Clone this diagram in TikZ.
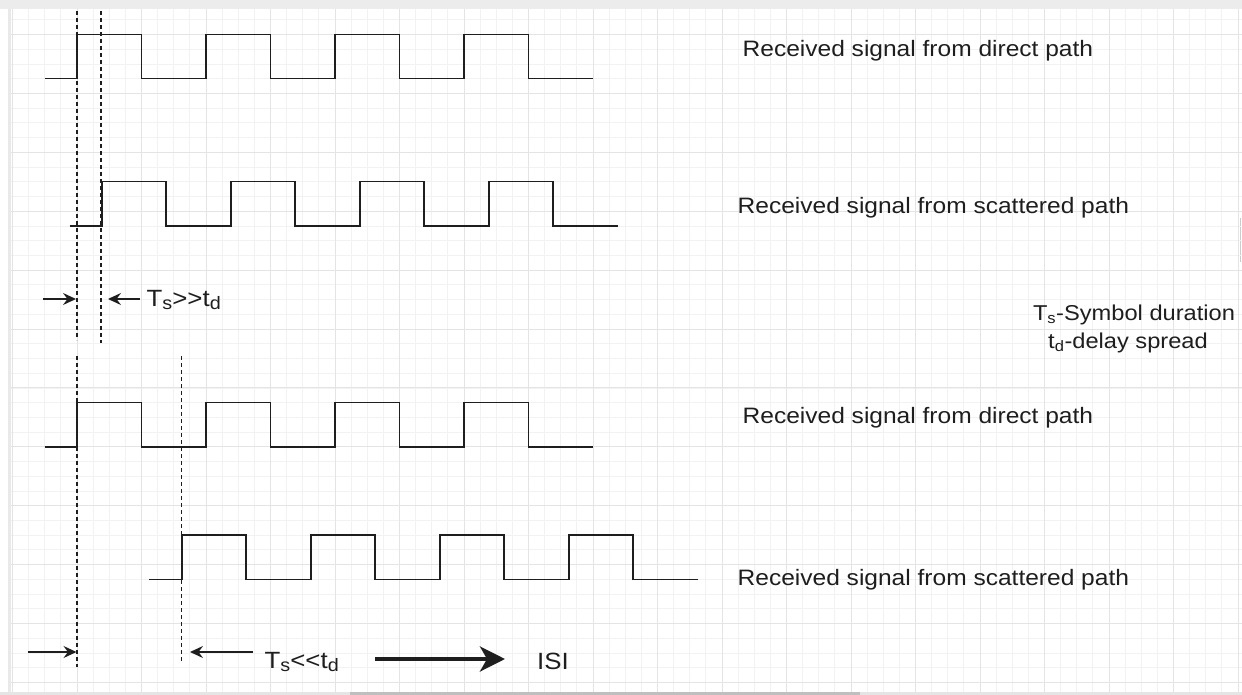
\documentclass[tikz,border=0pt]{standalone}
\usepackage{fontspec}
\setmainfont{Liberation Sans}[FakeStretch=1.1]
\usetikzlibrary{arrows.meta}

\definecolor{gridminor}{HTML}{F2F2F2}
\definecolor{gridmajor}{HTML}{E4E4E4}
\definecolor{ink}{HTML}{1E1E1E}

\newcommand{\lowsub}[1]{\raisebox{-3pt}{\fontsize{18}{18}\selectfont #1}}

\begin{document}
\begin{tikzpicture}[x=1pt,y=-1pt,>=Stealth,
  wave/.style={line width=1.6pt, ink, line join=miter},
  marker/.style={line width=1.3pt, ink, dash pattern=on 4pt off 3pt},
  span/.style={-{Stealth[length=13pt,width=12pt,inset=4.5pt]}, line width=1.3pt, ink},
  heavy/.style={-{Stealth[length=25pt,width=25pt,inset=7pt]}, line width=4pt, ink},
  caption/.style={font=\fontsize{22.3}{26}\selectfont, text=ink, inner sep=0pt, anchor=base west},
  legend/.style={font=\fontsize{21.5}{26}\selectfont, text=ink, inner sep=0pt, anchor=base},
  tag/.style={font=\fontsize{23.5}{28}\selectfont, text=ink, inner sep=0pt, anchor=base west}]

  \useasboundingbox (0,0) rectangle (1242,695);

  % canvas frame
  \fill[white] (0,0) rectangle (1242,695);
  \fill[gray!15] (0,0) rectangle (1242,9.5);
  \fill[gray!17] (8,9.5) rectangle (11,691.5);
  \fill[gray!20] (0,691.5) rectangle (1242,695);
  \fill[gray!50] (350,691.5) rectangle (860,695);
  \draw[gray!40, line width=1pt] (1240.5,218) -- (1240.5,262);

  % background grid
  \begin{scope}
    \clip (11,9.5) rectangle (1242,691.5);
    \foreach \gx in {0,...,76}
      \draw[gridminor, line width=0.8pt] ({12.5+16.125*\gx},9.5) -- ++(0,682);
    \foreach \gy in {-1,...,45}
      \draw[gridminor, line width=0.8pt] (11,{19.775+14.725*\gy}) -- ++(1231,0);
    \foreach \gx in {0,...,19}
      \draw[gridmajor, line width=0.9pt] ({12.5+64.5*\gx},9.5) -- ++(0,682);
    \foreach \gy in {0,...,11}
      \draw[gridmajor, line width=0.9pt] (11,{34.5+58.9*\gy}) -- ++(1231,0);
  \end{scope}

  % time markers
  \coordinate (m1top) at (77,11);    \coordinate (m1bot) at (77,340);
  \coordinate (m2top) at (101,11);   \coordinate (m2bot) at (101,343);
  \coordinate (m3top) at (77,356);   \coordinate (m3bot) at (77,667);
  \coordinate (m4top) at (181.7,356); \coordinate (m4bot) at (181.7,662);

  \draw[marker] (m1top) -- (m1bot);
  \draw[marker] (m2top) -- (m2bot);
  \draw[marker] (m3top) -- (m3bot);
  \draw[marker] (m4top) -- (m4bot);

  % square waves
  \draw[wave] (44.6,78.7) -- ++(32.4,0)
    \foreach \k in {1,...,4} { -- ++(0,-44.2) -- ++(64.5,0) -- ++(0,44.2) -- ++(64.5,0) };
  \draw[wave] (69.5,225.9) -- ++(32.25,0)
    \foreach \k in {1,...,4} { -- ++(0,-44.2) -- ++(64.5,0) -- ++(0,44.2) -- ++(64.5,0) };
  \draw[wave] (44.6,446.8) -- ++(32.4,0)
    \foreach \k in {1,...,4} { -- ++(0,-44.2) -- ++(64.5,0) -- ++(0,44.2) -- ++(64.5,0) };
  \draw[wave] (149.4,579.3) -- ++(32.3,0)
    \foreach \k in {1,...,4} { -- ++(0,-44.2) -- ++(64.5,0) -- ++(0,44.2) -- ++(64.5,0) };

  % wave captions
  \node[caption] (direct1)  at (742.5,56.7) {Received signal from direct path};
  \node[caption] (scatter1) at (737.5,214)  {Received signal from scattered path};
  \node[caption] (direct2)  at (742.5,423)  {Received signal from direct path};
  \node[caption] (scatter2) at (737.5,585)  {Received signal from scattered path};

  \node[legend] (tsdef) at (1134,320) {T\textsubscript{s}-Symbol duration};
  \node[legend] (tddef) at (1128,348) {t\textsubscript{d}-delay spread};

  % delay spread, short
  \coordinate (a1) at (42.7,299);  \coordinate (a1tip) at (76,299);
  \coordinate (a2) at (140,299);   \coordinate (a2tip) at (108,299);
  \draw[span] (a1) -- (a1tip);
  \draw[span] (a2) -- (a2tip);
  \node[tag] (slow) at (146.5,306.7) {T\lowsub{s}>{}>t\lowsub{d}};

  % delay spread, long
  \coordinate (b1) at (27.7,652);  \coordinate (b1tip) at (76.5,652);
  \coordinate (b2) at (253,652);   \coordinate (b2tip) at (190,652);
  \draw[span] (b1) -- (b1tip);
  \draw[span] (b2) -- (b2tip);
  \node[tag] (fast) at (264.5,668) {T\lowsub{s}<{}<t\lowsub{d}};

  \coordinate (isifrom) at (375,659);
  \coordinate (isito) at (505,659);
  \draw[heavy] (isifrom) -- (isito);
  \node[tag] (isi) at (537,669) {ISI};
\end{tikzpicture}
\end{document}
